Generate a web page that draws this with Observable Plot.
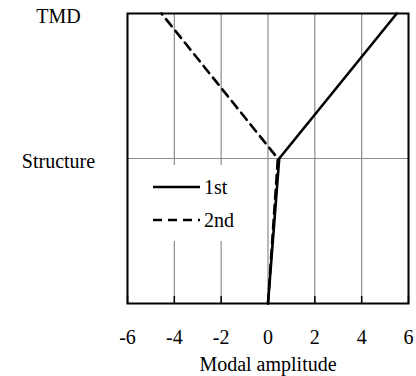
<!DOCTYPE html>
<html>
<head>
<meta charset="utf-8">
<script src="https://cdn.jsdelivr.net/npm/d3@7"></script>
<script src="https://cdn.jsdelivr.net/npm/@observablehq/plot@0.6"></script>
</head>
<body style="margin:0">
<div id="wrap" style="position:relative;width:416px;height:376px"><div id="legend" style="position:absolute;left:141px;top:165px;width:108px;height:76px;background:#fff"></div></div>
<script>
// Data
const levels = [0, 1, 2];
const levelTicks = [1, 2];
const levelLabels = ["Structure", "TMD"];
const firstMode = [0, 0.48, 5.5];
const secondMode = [0, 0.42, -4.55];
const xTicks = [-6, -4, -2, 0, 2, 4, 6];
const seriesNames = ["1st", "2nd"];

const rows = [
  ...levels.map((lv, i) => ({mode: seriesNames[0], level: lv, amp: firstMode[i]})),
  ...levels.map((lv, i) => ({mode: seriesNames[1], level: lv, amp: secondMode[i]}))
];

const chart = Plot.plot({
  width: 416,
  height: 376,
  marginLeft: 127,
  marginRight: 8,
  marginTop: 13,
  marginBottom: 73,
  style: {fontFamily: "Liberation Serif", fontSize: "20px"},
  x: {domain: [-6, 6]},
  y: {domain: [0, 2]},
  marks: [
    Plot.gridX(xTicks, {stroke: "#8c8c8c", strokeOpacity: 1, strokeWidth: 1.2}),
    Plot.gridY([1], {stroke: "#8c8c8c", strokeOpacity: 1, strokeWidth: 1.2}),
    Plot.axisX(xTicks, {tickSize: -7, text: null, label: null, strokeWidth: 1.5}),
    Plot.axisX(xTicks, {tickSize: 0, tickPadding: 26, tickFormat: d => String(d).replace("−", "-"), label: "Modal amplitude", labelAnchor: "center", labelArrow: "none", labelOffset: 67}),
    Plot.axisY(levelTicks, {tickSize: 0, tickPadding: 69, textAnchor: "middle", dy: 3, tickFormat: d => levelLabels[levelTicks.indexOf(d)], label: null}),
    Plot.line(rows.filter(d => d.mode === seriesNames[0]), {x: "amp", y: "level", stroke: "#000", strokeWidth: 2.6}),
    Plot.line(rows.filter(d => d.mode === seriesNames[1]), {x: "amp", y: "level", stroke: "#000", strokeWidth: 2.6, strokeDasharray: "9,6"}),
    Plot.frame({stroke: "#000", strokeWidth: 2})
  ]
});
chart.style.position = "absolute";
chart.style.left = "0";
chart.style.top = "0";
chart.style.color = "#000";
document.getElementById("wrap").prepend(chart);

// Legend
const leg = d3.select("#legend").append("svg")
  .attr("width", 108).attr("height", 76)
  .attr("font-family", "Liberation Serif").attr("font-size", 20);
const dashes = [null, "9,6"];
seriesNames.forEach((name, i) => {
  const cy = 22 + i * 33;
  leg.append("line").attr("x1", 12).attr("x2", 59).attr("y1", cy).attr("y2", cy)
    .attr("stroke", "#000").attr("stroke-width", 2.6).attr("stroke-dasharray", dashes[i]);
  leg.append("text").attr("x", 63).attr("y", cy + 7).text(name);
});
</script>
</body>
</html>
